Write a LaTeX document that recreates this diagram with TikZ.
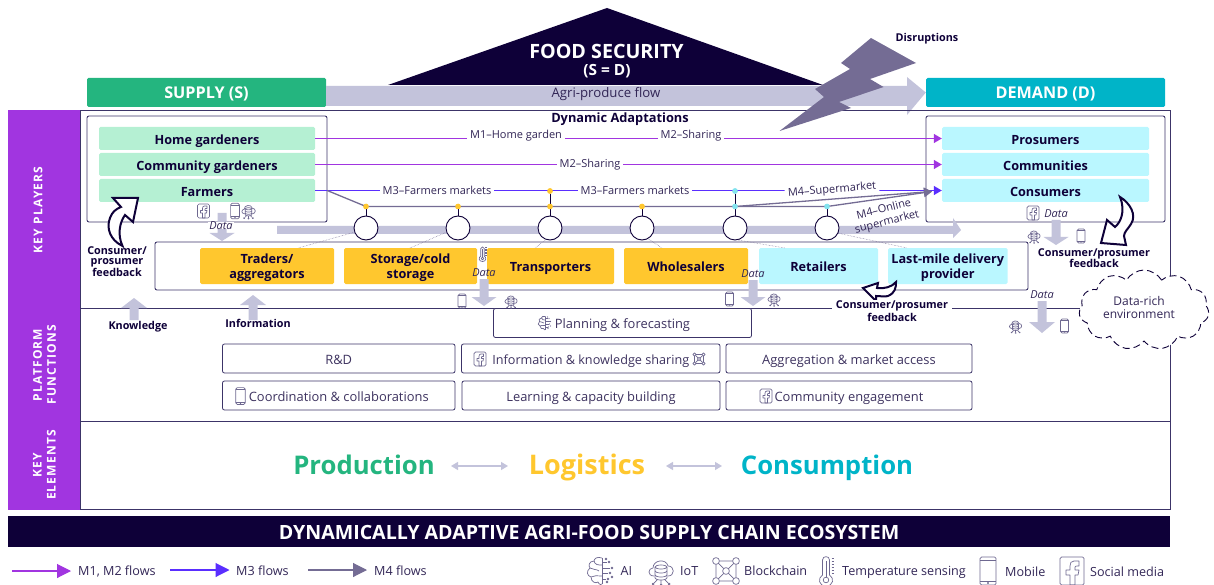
\documentclass[tikz,border=0pt]{standalone}
\usepackage{fontspec}
\setmainfont{Open Sans}
\usetikzlibrary{arrows.meta,shapes.symbols,calc}
\definecolor{navy}{HTML}{0E0038}
\definecolor{frameC}{HTML}{3C3468}
\definecolor{violetC}{HTML}{A135E0}
\definecolor{blueC}{HTML}{5A2EFF}
\definecolor{greyC}{HTML}{746C94}
\definecolor{lilac}{HTML}{C3C3DB}
\definecolor{supplyC}{HTML}{24B57F}
\definecolor{demandC}{HTML}{00B4C8}
\definecolor{mintC}{HTML}{B5F0D3}
\definecolor{aquaC}{HTML}{BAF7FF}
\definecolor{amberC}{HTML}{FFC72E}
\definecolor{iconC}{HTML}{6E6890}
\newcommand\fsz[1]{\fontsize{#1}{#1}\selectfont}
\newcommand\lowerfirst{\rule{0pt}{13pt}}
\tikzset{
 head/.style={draw=none,fill=#1,rounded corners=1.5pt,text=white,font=\fsz{16.2}\bfseries,inner sep=0pt,text height=14.5pt,text depth=1.5pt},
 card/.style={fill=#1,rounded corners=1.5pt,inner sep=0pt,text=navy,font=\fsz{12.7}\bfseries,align=center},
 oneline/.style={text height=12.5pt,text depth=1pt},
 rowcard/.style={card=#1,oneline,minimum height=23pt},
 fnbox/.style={draw=frameC,line width=0.8pt,rounded corners=2pt,fill=white,inner sep=0pt,minimum height=29pt,text=navy!80,font=\fsz{12.9},oneline},
 panel/.style={draw=frameC,line width=0.9pt,rounded corners=2pt,inner sep=0pt},
 lbl/.style={inner sep=1.5pt,font=\fsz{11},text=navy!85},
 lblbg/.style={lbl,fill=white,inner xsep=3pt},
 boldlbl/.style={inner sep=0pt,font=\fsz{10.8}\bfseries,text=navy,align=center},
 datalbl/.style={inner sep=0pt,font=\fsz{11}\itshape,text=navy!85},
 hub/.style={circle,draw=navy,line width=0.9pt,fill=white,minimum size=24pt,inner sep=0pt},
 dotY/.style={circle,fill=amberC,minimum size=5.5pt,inner sep=0pt},
 dotC/.style={circle,fill=aquaC!70!demandC,minimum size=5.5pt,inner sep=0pt},
 side/.style={text=white,font=\fsz{12}\bfseries\addfontfeature{LetterSpace=10},rotate=90,align=center,inner sep=0pt},
 vflow/.style={draw=violetC,line width=1.3pt,-{Triangle[length=8pt,width=9pt]}},
 bflow/.style={draw=blueC,line width=1.3pt,-{Triangle[length=8pt,width=9pt]}},
 gflow/.style={draw=greyC,line width=1.3pt,-{Triangle[length=8pt,width=9pt]}},
 leader/.style={draw=greyC,line width=0.5pt,densely dotted},
 fbk/.style={draw=navy,line width=2pt,fill=white,line join=miter},
 dbl/.style={draw=lilac,line width=1.2pt,{Triangle[length=7pt,width=8pt]}-{Triangle[length=7pt,width=8pt]}},
 ico/.style={draw=iconC,line width=0.7pt,line join=round},
 legendT/.style={anchor=base west,inner sep=0pt,font=\fsz{12.6},text=navy!85},
 bigword/.style={anchor=base,inner sep=0pt,font=\fsz{#1}\bfseries},
}
\newcommand\IcFb[3]{\begin{scope}[shift={(#1,#2)},scale=#3,ico]
 \draw[rounded corners=1.5pt] (-12,-14) rectangle (12,14);
 \draw (7,-10) -- (2,-10) .. controls (-1,-10) and (-2,-8) .. (-2,-5) -- (-2,-1) -- (-6,-1) -- (-6,4) -- (-2,4) -- (-2,14) -- (3,14) -- (3,4) -- (6,4) -- (7,-1) -- (3,-1) -- (3,-4) .. controls (3,-5) and (4,-5) .. (7,-5) -- cycle;
\end{scope}}
\newcommand\IcMob[3]{\begin{scope}[shift={(#1,#2)},scale=#3,ico]
 \draw[rounded corners=1.5pt] (-8,-14) rectangle (8,14);
 \draw (-8,-10.5) -- (8,-10.5) (-8,10) -- (8,10);
 \draw (0,12) circle (0.7);
\end{scope}}
\newcommand\IcIot[3]{\begin{scope}[shift={(#1,#2)},scale=#3,ico]
 \draw (-7,5) .. controls (-14,5) and (-13,-3) .. (-8,-3) .. controls (-8,-11) and (5,-13) .. (7,-5) .. controls (14,-5) and (14,5) .. (7,5);
 \draw (0,-4) ellipse (6 and 2);
 \draw (-6,-4) -- (-6,7) arc (180:0:6 and 2) -- (6,-4);
 \draw (-6,0) arc (180:0:6 and 2) (-6,4) arc (180:0:6 and 2);
 \draw (-4,9) -- (-7,12) (0,9) -- (0,13) (4,9) -- (7,12);
 \draw (-8,13) circle (1) (0,14) circle (1) (8,13) circle (1);
\end{scope}}
\newcommand\IcChain[3]{\begin{scope}[shift={(#1,#2)},scale=#3,ico]
 \foreach \a/\b in {-10/-10,10/-10,0/0,-10/10,10/10}{\draw (\a,\b) circle (3.4);}
 \draw (-6.6,-10) -- (6.6,-10) (-6.6,10) -- (6.6,10) (-10,-6.6) -- (-10,6.6) (10,-6.6) -- (10,6.6) (-7.6,-7.6) -- (-2.4,-2.4) (7.6,-7.6) -- (2.4,-2.4) (-7.6,7.6) -- (-2.4,2.4) (7.6,7.6) -- (2.4,2.4);
\end{scope}}
\newcommand\IcTherm[3]{\begin{scope}[shift={(#1,#2)},scale=#3,ico]
 \draw (-3.5,-11) .. controls (-3.5,-15.5) and (3.5,-15.5) .. (3.5,-11) -- (3.5,4) .. controls (8.5,7) and (7.5,15) .. (0,15) .. controls (-7.5,15) and (-8.5,7) .. (-3.5,4) -- cycle;
 \draw (0,9) circle (2.8);
 \draw (0,6.2) -- (0,-10);
 \foreach \y in {-13,-10,...,2}{\draw (5.5,\y) -- (8,\y);}
\end{scope}}
\newcommand\IcBrain[3]{\begin{scope}[shift={(#1,#2)},scale=#3,ico]
 \draw (1,-13) .. controls (-4,-15) and (-7,-12) .. (-7,-10) .. controls (-12,-10) and (-13,-5) .. (-11,-3) .. controls (-15,0) and (-14,5) .. (-10,6) .. controls (-10,11) and (-5,13) .. (-3,11) .. controls (-2,14) and (1,14) .. (1,13);
 \draw (1,-13) -- (1,13);
 \draw (-7,-10) .. controls (-6,-6) and (-3,-6) .. (1,-6) (-11,-3) .. controls (-8,-1) and (-4,-2) .. (-2,0) (-10,6) .. controls (-7,4) and (-4,5) .. (1,5);
 \draw (1,-9) -- (6,-9) (1,-3) -- (9,-3) (1,2) -- (7,2) (1,8) -- (5,8);
 \foreach \a/\b in {8/-9,11/-3,9/2,7/8,11/6,5/-12,6/11}{\fill[iconC] (\a,\b) circle (1.3);}
\end{scope}}
\newcommand\BlockV[5][lilac]{\fill[#1] (#2-4.5,#3) -- (#2+4.5,#3) -- (#2+4.5,#4) -- (#2+#5,#4) -- (#2,\tipY) -- (#2-#5,#4) -- (#2-4.5,#4) -- cycle;}
\begin{document}
\begin{tikzpicture}[x=1pt,y=-1pt]
\useasboundingbox (0,0) rectangle (1214,585);
\fill[navy] (607,8) -- (823,85) -- (388,85) -- cycle;
\node[inner sep=0pt,text=white,font=\fsz{19.7}\bfseries] (fs) at (606.5,51) {FOOD SECURITY};
\node[inner sep=0pt,text=white,font=\fsz{15.4}\bfseries] (sd) at (607,71.5) {(S = D)};
\node[head=supplyC,minimum width=239pt,minimum height=29pt] (supply) at (206.5,92.5) {SUPPLY (S)};
\node[head=demandC,minimum width=239pt,minimum height=29pt] (demand) at (1045.5,92.5) {DEMAND (D)};
\fill[lilac] (supply.east |- 0,86) -- (907,86) -- (907,77) -- (demand.west) -- (907,115) -- (907,106) -- (supply.east |- 0,106) -- cycle;
\node[lbl,font=\fsz{13.2}] (agri) at (606,94.5) {Agri-produce flow};
\fill[violetC] (8,110) rectangle (80.5,510);
\draw[frameC,line width=0.8pt] (80.5,110) -- (1170,110) -- (1170,509.5) -- (80.5,509.5) -- cycle;
\draw[frameC,line width=1pt] (80.5,421) -- (1170,421);
\draw[frameC,line width=0.9pt] (80.5,308.5) -- (1080,308.5);
\node[side] (s1) at (38,210) {KEY PLAYERS};
\node[side] (s2) at (44.5,365) {PLATFORM\\[2pt]FUNCTIONS};
\node[side] (s3) at (44.5,465) {KEY\\[2pt]ELEMENTS};
\node[panel,minimum width=240pt,minimum height=106pt] (sbox) at (207,169) {};
\node[panel,minimum width=239pt,minimum height=106pt] (dbox) at (1045.5,169) {};
\node[panel,minimum width=873pt,minimum height=48pt] (mbox) at (591.5,266) {};
\node[inner sep=0pt,font=\fsz{12.8}\bfseries,text=navy] (dyn) at (620,119.5) {Dynamic Adaptations};
\foreach \n/\t/\y in {home/Home gardeners/138.5,comm/Community gardeners/164.5,farm/Farmers/190.5}
 \node[rowcard=mintC,minimum width=216pt] (\n) at (207,\y) {\t};
\foreach \n/\t/\y in {pros/Prosumers/138.5,coms/Communities/164.5,cons/Consumers/190.5}
 \node[rowcard=aquaC,minimum width=207pt] (\n) at (1045.5,\y) {\t};
\node[card=amberC,minimum width=134pt,minimum height=36pt] (trad) at (267,266) {\lowerfirst Traders/\\[2pt]aggregators};
\node[card=amberC,minimum width=133pt,minimum height=36pt] (stor) at (410.5,266) {\lowerfirst Storage/cold\\[2pt]storage};
\node[card=amberC,oneline,minimum width=127pt,minimum height=36pt] (tran) at (550.5,266) {Transporters};
\node[card=amberC,oneline,minimum width=124pt,minimum height=36pt] (whol) at (686,266) {Wholesalers};
\node[card=aquaC,oneline,minimum width=119pt,minimum height=36pt] (reta) at (818.5,266) {Retailers};
\node[card=aquaC,minimum width=119.5pt,minimum height=36pt] (last) at (947.75,266) {\lowerfirst Last-mile delivery\\[2pt]provider};
\fill[lilac] (277,226) -- (953,226) -- (953,218) -- (961,230) -- (953,238) -- (953,234) -- (277,234) -- cycle;
\foreach \n/\x in {h1/366,h2/458,h3/550,h4/642,h5/735,h6/827}
 \node[hub] (\n) at (\x,228) {};
\foreach \n/\x/\s in {d1/366/dotY,d2/458/dotY,d3/550/dotY,d4/642/dotY,d5/735/dotC,d6/827/dotC}
 \node[\s] (\n) at (\x,206.5) {};
\node[dotY] (u3) at (550,191) {};
\node[dotC] (u5) at (735,191) {};
\foreach \i in {1,...,6} \draw[navy,line width=0.8pt] (d\i) -- (h\i);
\draw[navy,line width=0.8pt] (u3) -- (d3);
\draw[navy,line width=0.8pt] (u5) -- (d5);
\coordinate (l1) at (298,248); \coordinate (l2) at (410,248); \coordinate (l3) at (535,248);
\coordinate (l4) at (662,248); \coordinate (l5) at (785,248); \coordinate (l6) at (907,248);
\foreach \i/\a in {1/200,2/200,3/250,4/-60,5/-75,6/-25} \draw[leader] (h\i.\a) -- (l\i);
\draw[vflow] (home.east) -- (pros.west);
\draw[vflow] (comm.east) -- (coms.west);
\draw[bflow] (farm.east) -- (cons.west);
\draw[greyC,line width=1.3pt] (farm.east) ++(12,0) -- (d1.center) -- (d5.center);
\coordinate (gm) at (932,191.5);
\draw[gflow] (d5.center) -- (gm);
\draw[gflow] (d5.center) -- (d6.center) -- (gm);
\foreach \n in {1,...,6}{\ifnum\n<5 \node[dotY] at (d\n) {};\else\node[dotC] at (d\n) {};\fi}
\node[dotY] at (u3) {}; \node[dotC] at (u5) {};
\node[lblbg] (m1) at (516,136) {M1–Home garden};
\node[lblbg] (m2a) at (691,136) {M2–Sharing};
\node[lblbg] (m2b) at (590,165) {M2–Sharing};
\node[lblbg] (m3a) at (437,190) {M3–Farmers markets};
\node[lblbg] (m3b) at (635,190) {M3–Farmers markets};
\node[lblbg,rotate=5,inner ysep=1pt] (m4a) at (832,190) {M4–Supermarket};
\node[lbl,rotate=14,align=center,inner sep=0pt,font=\fsz{11}] (m4b) at (885.5,216) {M4–Online\\[2pt]supermarket};
\fill[greyC] (871,38) -- (916,63) -- (870,79) -- (883.5,87) -- (839,102) -- (851,108) -- (779.5,131) -- (824,97) -- (815,89) -- (850,69) -- (841,63) -- cycle;
\node[boldlbl] (dis) at (927,39) {Disruptions};
\def\tipY{241}\BlockV{222}{213}{233}{12.5}
\def\tipY{306}\BlockV{484}{279}{297}{12.5}
\def\tipY{306}\BlockV{753}{280}{297}{12.5}
\def\tipY{245}\BlockV{1056}{220}{237}{12.5}
\def\tipY{333}\BlockV{1042}{301}{322}{13}
\def\tipY{298}\BlockV{134}{320}{308}{13}
\def\tipY{295}\BlockV{253}{320}{305}{13}
\node[datalbl,fill=white,inner xsep=1pt] (dat1) at (221,225.5) {Data};
\node[datalbl] (dat2) at (484,272.5) {Data};
\node[datalbl] (dat3) at (753,273.5) {Data};
\node[datalbl] (dat4) at (1056,213.5) {Data};
\node[datalbl] (dat5) at (1042,295) {Data};
\node[boldlbl] (know) at (138,326.5) {Knowledge};
\node[boldlbl] (info) at (258,323.5) {Information};
\draw[fbk] (113,198) -- (138,198) -- (133,222) -- (125,215) .. controls (120,222) and (117,234) .. (122.5,246) .. controls (110,240) and (106,228) .. (110,218) .. controls (112,212) and (116,209) .. (121,207) -- cycle;
\draw[fbk] (1120,197) .. controls (1130,203) and (1137,215) .. (1131,224) .. controls (1128,229) and (1124,232) .. (1124,236) -- (1126,245) -- (1101,243) -- (1107,220) -- (1115,227) .. controls (1120,223) and (1126,212) .. cycle;
\draw[fbk] (863,288) -- (878,283) -- (877,288) .. controls (884,289) and (892,287) .. (896,282) .. controls (896,288) and (895,293) .. (888,296) .. controls (885,297) and (880,296) .. (876,296) -- (876,301) -- cycle;
\node[boldlbl] (fb1) at (117,261.5) {Consumer/\\[0pt]prosumer\\[0pt]feedback};
\node[boldlbl] (fb2) at (1094,258.5) {Consumer/prosumer\\[-1pt]feedback};
\node[boldlbl,fill=white,inner xsep=4pt] (fb3) at (892,305.5) {Consumer/prosumer};
\node[boldlbl] (fb3b) at (892,317.5) {feedback};
\node[cloud,cloud puffs=11,cloud puff arc=120,aspect=1.65,draw=navy,dash pattern=on 7pt off 4pt,line width=0.9pt,fill=white,minimum width=130pt,minimum height=80pt,inner sep=0pt] (cloudN) at (1144,310) {};
\node[lbl,align=center,inner sep=0pt,font=\fsz{12}] (cloudT) at (1139,307.5) {Data-rich\\[1pt]environment};
\node[fnbox,minimum width=258pt] (fplan) at (622.5,323) {Planning \& forecasting};
\node[fnbox,minimum width=232.5pt] (frd) at (338.75,358.5) {R\&D};
\node[fnbox,minimum width=258.5pt,font=\fsz{12.65}] (finfo) at (590.75,358.5) {Information \& knowledge sharing};
\node[fnbox,minimum width=246pt] (fagg) at (849,358.5) {Aggregation \& market access};
\node[fnbox,minimum width=232.5pt] (fcoo) at (338.75,395.5) {Coordination \& collaborations};
\node[fnbox,minimum width=258pt] (flea) at (591,395.5) {Learning \& capacity building};
\node[fnbox,minimum width=246pt] (fcom) at (849,395.5) {Community engagement};
\node[bigword=25.7,text=supplyC] (prod) at (364,474.5) {Production};
\node[bigword=27,text=amberC] (logi) at (587,474.5) {Logistics};
\node[bigword=25.7,text=demandC] (cons2) at (827,474.5) {Consumption};
\coordinate (da) at (451,466); \coordinate (db) at (508,466); \coordinate (dc) at (666,466); \coordinate (dd) at (722,466);
\draw[dbl] (da) -- (db);
\draw[dbl] (dc) -- (dd);
\fill[navy] (8,516) rectangle (1170,547);
\node[inner sep=0pt,text=white,font=\fsz{19.6}\bfseries] (ban) at (589,532) {DYNAMICALLY ADAPTIVE AGRI-FOOD SUPPLY CHAIN ECOSYSTEM};
\coordinate (a1) at (12,571); \coordinate (b1) at (71,571);
\coordinate (a2) at (170,570); \coordinate (b2) at (229.5,570);
\coordinate (a3) at (308,570); \coordinate (b3) at (367,570);
\draw[draw=violetC,line width=1.1pt,-{Triangle[length=14pt,width=14pt]}] (a1) -- (b1);
\draw[draw=blueC,line width=1.1pt,-{Triangle[length=14pt,width=14pt]}] (a2) -- (b2);
\draw[draw=greyC,line width=1.1pt,-{Triangle[length=14pt,width=14pt]}] (a3) -- (b3);
\node[legendT] (t1) at (78,575.5) {M1, M2 flows};
\node[legendT] (t2) at (236,575.5) {M3 flows};
\node[legendT] (t3) at (374,575.5) {M4 flows};
\node[legendT] (t4) at (620.5,575.5) {AI};
\node[legendT] (t5) at (680,575.5) {IoT};
\node[legendT] (t6) at (744,575.5) {Blockchain};
\node[legendT] (t7) at (842,575.5) {Temperature sensing};
\node[legendT] (t8) at (1005,576) {Mobile};
\node[legendT] (t9) at (1090,576) {Social media};
\IcBrain{601}{571}{1}
\IcIot{661}{571}{1}
\IcChain{726}{571}{1}
\IcTherm{826}{571}{1}
\IcMob{988}{571}{1}
\IcFb{1072}{571}{1}
\IcFb{203.5}{211}{0.5}\IcMob{235}{211}{0.55}\IcIot{248.5}{211}{0.55}
\IcTherm{482.5}{254}{0.5}
\IcMob{462}{301}{0.5}\IcIot{511}{301}{0.5}
\IcMob{729.5}{299}{0.5}\IcIot{774}{299}{0.5}
\IcFb{1033}{213}{0.5}
\IcIot{1034}{236}{0.5}\IcMob{1081}{236}{0.5}
\IcIot{1015.5}{326}{0.5}\IcMob{1064.5}{326}{0.5}
\IcBrain{545}{323}{0.5}
\IcFb{480}{359}{0.5}\IcChain{699}{359}{0.45}
\IcMob{240.5}{396}{0.6}
\IcFb{766}{396}{0.5}
\end{tikzpicture}
\end{document}
